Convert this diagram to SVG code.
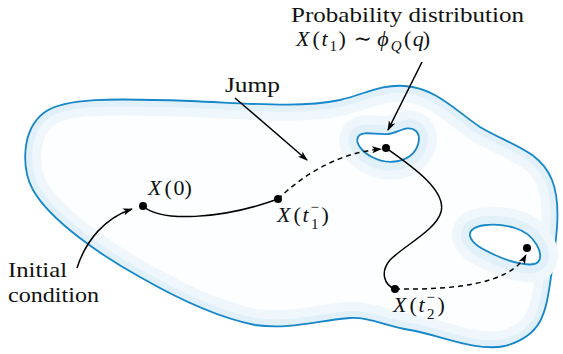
<svg xmlns="http://www.w3.org/2000/svg" width="563" height="354" viewBox="0 0 563 354">
<style>
.t{font-family:"Liberation Serif","Times New Roman",serif;font-size:22px;fill:#111}
.m{font-family:"Liberation Serif","DejaVu Serif",serif;font-size:22px;font-style:italic;fill:#111}
.r{font-family:"Liberation Serif","DejaVu Serif",serif;font-size:22px;fill:#111}
.s{font-size:15px}
.outline{fill:none;stroke:#1687c8;stroke-width:1.8}
.halo1{fill:none;stroke:#f0f7fc}
.halo2{fill:none;stroke:#e2f0f9}
.dot{fill:#000}
.c{fill:none;stroke:#000;stroke-width:1.5}
.d{fill:none;stroke:#000;stroke-width:1.5;stroke-dasharray:5 4}
</style>
<defs>
<path id="blob" d="M33,190 C22,170 20,130 45,112 C65,98 110,98 190,101 C260,104 300,108 340,100 C365,94 382,84 405,86 C435,88 455,110 480,127 C510,145 540,150 552,180 C562,205 556,240 552,270 C546,310 545,335 505,346 C475,352 440,335 410,330 C385,326 370,317 350,318 C320,320 290,330 255,325 C220,318 180,300 140,277 C100,255 50,220 33,190 Z"/>
<path id="isl1" d="M358,137 C362,130 375,135 388,134 C398,133 408,124 416,131 C422,137 418,150 410,156 C400,163 385,164 372,157 C362,152 355,143 358,137 Z"/>
<path id="isl2" d="M470,236 C468,224 495,222 515,228 C535,234 545,255 538,262 C532,268 510,262 495,255 C482,249 472,244 470,236 Z"/>
<clipPath id="inside"><use href="#blob"/></clipPath>
<marker id="ah" markerWidth="10" markerHeight="8" refX="9" refY="4" orient="auto" markerUnits="userSpaceOnUse">
<path d="M0,0.5 L10,4 L0,7.5 L2.5,4 Z" fill="#000"/>
</marker>
</defs>

<g id="region">
<use href="#blob" fill="#fcfeff"/>
<g clip-path="url(#inside)">
<use href="#blob" class="halo1" stroke-width="32"/>
<use href="#blob" class="halo2" stroke-width="14"/>
</g>
<use href="#blob" class="outline"/>
</g>

<g id="island1">
<use href="#isl1" class="halo1" stroke-width="36"/>
<use href="#isl1" class="halo2" stroke-width="18"/>
<use href="#isl1" fill="#ffffff"/>
<use href="#isl1" class="outline"/>
</g>

<g id="island2">
<use href="#isl2" class="halo1" stroke-width="36"/>
<use href="#isl2" class="halo2" stroke-width="18"/>
<use href="#isl2" fill="#ffffff"/>
<use href="#isl2" class="outline"/>
</g>

<g id="connectors">
<path class="c" d="M143,206 C160,222 220,220 278,199"/>
<path class="d" d="M278,199 C300,178 335,153 381,149" marker-end="url(#ah)"/>
<path class="c" d="M386,148 C410,165 447,190 441,212 C436,230 405,245 390,260 C380,272 384,285 395,289"/>
<path class="d" d="M395,289 C450,290 510,285 526,255" marker-end="url(#ah)"/>
<path class="c" d="M77,268 C86,240 105,218 132,209" marker-end="url(#ah)"/>
<path class="c" d="M235,98 L307,160" marker-end="url(#ah)"/>
<path class="c" d="M422,62 L388,130" marker-end="url(#ah)"/>
</g>

<g id="x0">
<circle class="dot" cx="143" cy="206" r="4"/>
<text><tspan class="m" x="148" y="195">X</tspan><tspan class="r" x="164.6" y="195">(</tspan><tspan class="r" x="173.4" y="195">0</tspan><tspan class="r" x="184.6" y="195">)</tspan></text>
</g>

<g id="xt1">
<circle class="dot" cx="278" cy="199" r="4"/>
<text><tspan class="m" x="277" y="222">X</tspan><tspan class="r" x="293.6" y="222">(</tspan><tspan class="m" x="302.4" y="222">t</tspan><tspan class="r s" x="310.5" y="212">−</tspan><tspan class="r s" x="311" y="229">1</tspan><tspan class="r" x="321.5" y="222">)</tspan></text>
</g>

<g id="pt1">
<circle class="dot" cx="386" cy="148" r="4"/>
</g>

<g id="xt2">
<circle class="dot" cx="395" cy="289" r="4"/>
<text><tspan class="m" x="393" y="312">X</tspan><tspan class="r" x="409.6" y="312">(</tspan><tspan class="m" x="418.4" y="312">t</tspan><tspan class="r s" x="426.5" y="302">−</tspan><tspan class="r s" x="427" y="319">2</tspan><tspan class="r" x="437.5" y="312">)</tspan></text>
</g>

<g id="pt2">
<circle class="dot" cx="527" cy="248" r="4"/>
</g>

<g id="label-prob">
<text class="t" x="291" y="22" textLength="233" lengthAdjust="spacingAndGlyphs">Probability distribution</text>
<text><tspan class="m" x="296" y="46">X</tspan><tspan class="r" x="312.6" y="46">(</tspan><tspan class="m" x="321.4" y="46">t</tspan><tspan class="r s" x="329.5" y="51">1</tspan><tspan class="r" x="338.5" y="46">)</tspan><tspan class="r" x="353.5" y="46">∼</tspan><tspan class="m" x="377.3" y="46">ϕ</tspan><tspan class="m s" x="390.7" y="51">Q</tspan><tspan class="r" x="404" y="46">(</tspan><tspan class="m" x="412.8" y="46">q</tspan><tspan class="r" x="422.8" y="46">)</tspan></text>
</g>

<g id="label-jump">
<text class="t" x="225" y="92" textLength="55" lengthAdjust="spacingAndGlyphs">Jump</text>
</g>

<g id="label-initial">
<text class="t" x="8" y="277" textLength="59" lengthAdjust="spacingAndGlyphs">Initial</text>
<text class="t" x="8" y="302" textLength="91" lengthAdjust="spacingAndGlyphs">condition</text>
</g>
</svg>
